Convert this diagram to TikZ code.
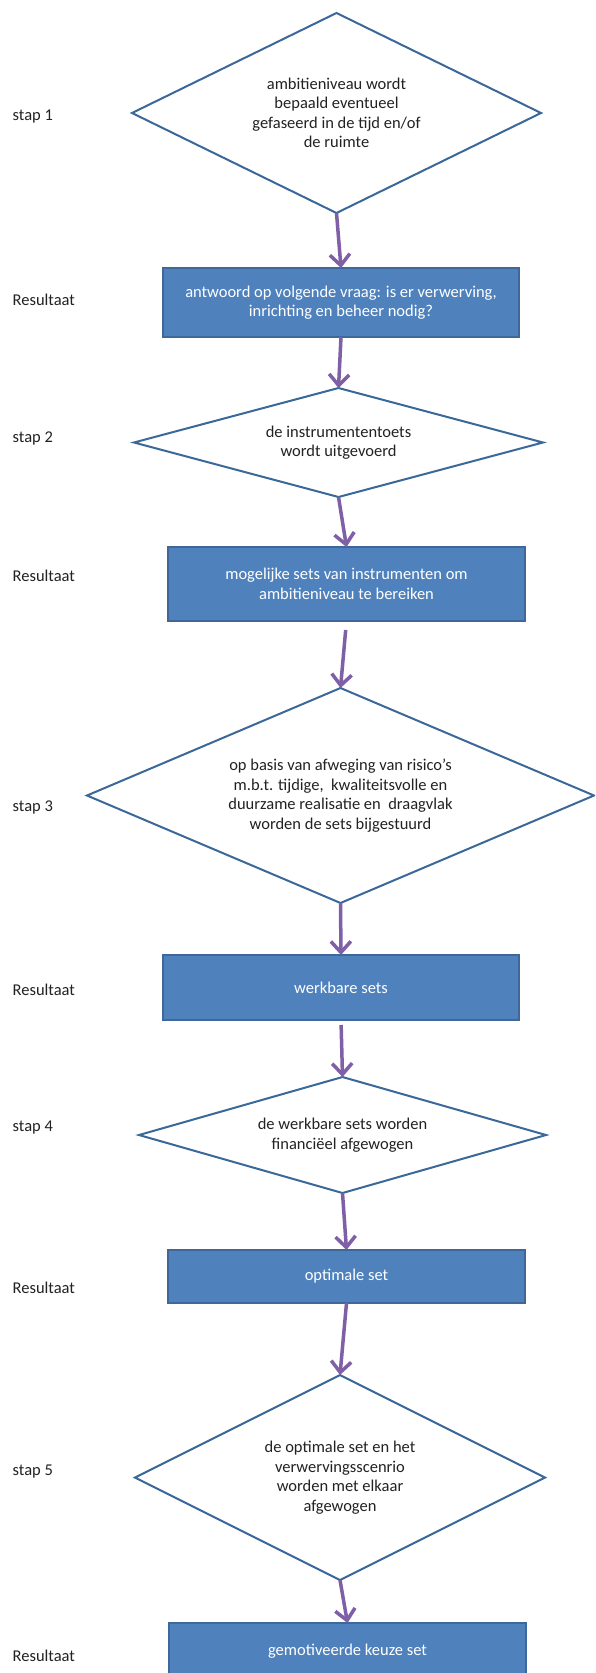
\documentclass[tikz,border=0pt]{standalone}
\usepackage{fontspec}
\setmainfont{Carlito}
\usetikzlibrary{shapes.geometric,arrows.meta}
\definecolor{boxblue}{HTML}{4F81BD}
\definecolor{boxedge}{HTML}{3D6899}
\definecolor{diaedge}{HTML}{3A6898}
\definecolor{arrowpurple}{HTML}{7F5FA6}
\definecolor{labeltext}{HTML}{222222}
\tikzset{
  chartfont/.style={font=\fontsize{16.5pt}{19.5pt}\selectfont},
  resbox/.style={rectangle, draw=boxedge, line width=1.5pt, fill=boxblue, inner sep=0pt, outer sep=0pt,
    text=white, align=center, chartfont},
  decision/.style={diamond, draw=diaedge, line width=2pt, fill=white, inner sep=0pt, outer sep=0pt},
  dtext/.style={align=center, text=labeltext, chartfont, inner sep=0pt},
  sidelabel/.style={anchor=west, text=labeltext, chartfont, inner sep=0pt},
  flow/.style={draw=arrowpurple, line width=3.5pt, -{Straight Barb[length=11pt,width=20pt]}},
}
\begin{document}
\begin{tikzpicture}[x=1pt,y=-1pt]
\clip (0,0) rectangle (595,1673);
\fill[white] (0,0) rectangle (595,1673);

% diamonds
\node[decision, minimum width=409pt, minimum height=200pt] (d1) at (336.5,113) {};
\node[dtext] (t1) at (d1.center) {ambitieniveau wordt\\bepaald eventueel\\gefaseerd in de tijd en/of\\de ruimte};

\node[decision, minimum width=409pt, minimum height=109pt] (d2) at (338.5,442.5) {};
\node[dtext] (t2) at (d2.center) {de instrumententoets\\wordt uitgevoerd};

\node[decision, minimum width=507pt, minimum height=215pt] (d3) at (340.5,795.5) {};
\node[dtext] (t3) at (d3.center) {op basis van afweging van risico's\\m.b.t. tijdige,\ \ kwaliteitsvolle en\\duurzame realisatie en\ \ draagvlak\\worden de sets bijgestuurd};

\node[decision, minimum width=407pt, minimum height=116pt] (d4) at (342.5,1135) {};
\node[dtext] (t4) at (d4.center) {de werkbare sets worden\\financiëel afgewogen};

\node[decision, minimum width=410pt, minimum height=205pt] (d5) at (340,1477.5) {};
\node[dtext] (t5) at (d5.center) {de optimale set en het\\verwervingsscenrio\\worden met elkaar\\afgewogen};

% result boxes
\node[resbox, minimum width=356pt, minimum height=69pt] (b1) at (341,302.5) {antwoord op volgende vraag: is er verwerving,\\inrichting en beheer nodig?};
\node[resbox, minimum width=357pt, minimum height=74pt] (b2) at (346.5,584) {mogelijke sets van instrumenten om\\ambitieniveau te bereiken};
\node[resbox, minimum width=356pt, minimum height=65pt] (b3) at (341,987.5) {werkbare sets};
\node[resbox, minimum width=357pt, minimum height=53pt] (b4) at (346.5,1276.5) {optimale set};
\node[resbox, minimum width=357pt, minimum height=57pt] (b5) at (347.5,1651.5) {gemotiveerde keuze set};

% side labels
\node[sidelabel] (s1) at (12.5,117) {stap 1};
\node[sidelabel] (r1) at (12.5,300) {Resultaat};
\node[sidelabel] (s2) at (12.5,438) {stap 2};
\node[sidelabel] (r2) at (12.5,576) {Resultaat};
\node[sidelabel] (s3) at (12.5,807) {stap 3};
\node[sidelabel] (r3) at (12.5,990) {Resultaat};
\node[sidelabel] (s4) at (12.5,1128) {stap 4};
\node[sidelabel] (r4) at (12.5,1288) {Resultaat};
\node[sidelabel] (s5) at (12.5,1472) {stap 5};
\node[sidelabel] (r5) at (12.5,1656) {Resultaat};

% connectors
\draw[flow] (d1.south) -- (b1.north);
\draw[flow] (b1.south) -- (d2.north);
\draw[flow] (d2.south) -- (b2.north);
\draw[flow, shorten <=9pt] (b2.south) -- (d3.north);
\draw[flow] (d3.south) -- (b3.north);
\draw[flow, shorten <=5pt] (b3.south) -- (d4.north);
\draw[flow] (d4.south) -- (b4.north);
\draw[flow] (b4.south) -- (d5.north);
\draw[flow] (d5.south) -- (b5.north);
\end{tikzpicture}
\end{document}
